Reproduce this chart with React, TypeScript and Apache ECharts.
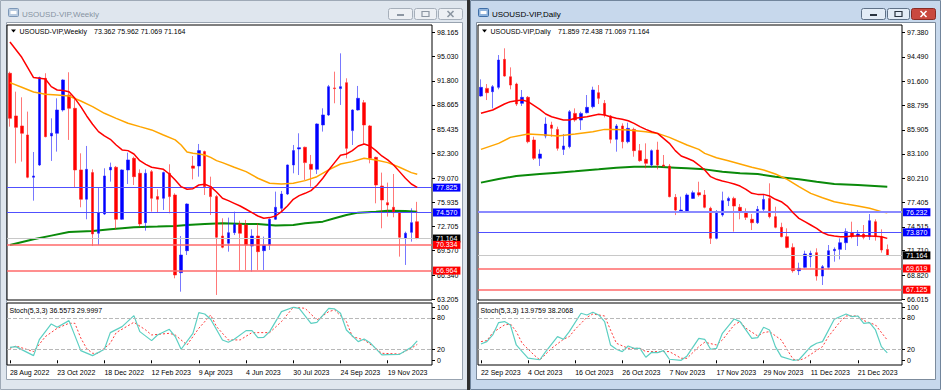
import { useEffect, useRef } from "react";
import * as echarts from "echarts";

const FONT = "'Liberation Sans', Arial, sans-serif";

// ---------- tick labels ----------
const weeklyTickLabels = ["28 Aug 2022", "23 Oct 2022", "18 Dec 2022", "12 Feb 2023", "9 Apr 2023", "4 Jun 2023", "30 Jul 2023", "24 Sep 2023", "19 Nov 2023"];
const dailyTickLabels = ["22 Sep 2023", "4 Oct 2023", "16 Oct 2023", "26 Oct 2023", "7 Nov 2023", "17 Nov 2023", "29 Nov 2023", "11 Dec 2023", "21 Dec 2023"];
const weeklyPriceTicks = [98.165, 95.03, 91.8, 88.665, 85.435, 82.3, 79.07, 75.935, 72.705, 69.57, 66.34, 63.205];
const dailyPriceTicks = [97.38, 94.49, 91.6, 88.795, 85.905, 83.1, 80.21, 77.405, 74.515, 71.71, 68.82, 66.015];
const stochTicks = [100, 80, 20, 0];

// ---------- weekly OHLC ----------
const weeklyOpen = [92.80, 87.21, 85.90, 84.72, 79.18, 80.79, 92.14, 84.59, 84.94, 87.99,
  89.96, 88.21, 80.14, 76.30, 79.79, 71.85, 74.37, 80.14, 80.49, 73.68,
  80.14, 81.66, 79.70, 73.24, 79.92, 76.65, 76.43, 79.70, 76.86, 66.69,
  69.57, 80.66, 80.66, 82.54, 77.95, 76.65, 71.49, 70.53, 71.93, 73.07,
  72.94, 70.18, 71.49, 69.57, 70.31, 73.68, 75.12, 76.99, 80.79, 82.89,
  83.11, 80.88, 80.22, 86.03, 87.34, 90.88, 90.79, 91.57, 85.29, 87.99,
  88.95, 85.90, 81.79, 78.04, 75.86, 75.25, 74.55, 71.19, 71.97, 73.362];
const weeklyHigh = [93.01, 90.39, 89.65, 87.78, 82.49, 92.36, 92.80, 86.90, 89.52, 92.01,
  92.93, 89.52, 82.32, 83.28, 80.22, 77.82, 80.36, 81.10, 80.66, 80.22,
  82.41, 81.88, 80.22, 80.22, 80.14, 77.61, 79.92, 80.88, 77.08, 71.49,
  75.77, 81.97, 83.54, 82.67, 79.26, 76.86, 73.81, 73.90, 74.68, 73.50,
  73.59, 72.37, 73.15, 71.41, 73.81, 77.30, 77.39, 80.85, 83.41, 84.94,
  83.19, 82.10, 86.25, 88.21, 91.27, 93.01, 95.41, 92.14, 88.08, 91.14,
  89.30, 86.03, 81.88, 79.79, 78.48, 79.61, 74.68, 72.06, 75.12, 75.962];
const weeklyLow = [85.81, 81.01, 81.23, 79.05, 76.12, 80.66, 84.41, 81.32, 82.54, 87.78,
  84.07, 77.87, 75.25, 73.68, 70.18, 70.31, 74.24, 78.61, 72.37, 73.59,
  78.30, 78.17, 72.72, 72.19, 74.68, 74.55, 74.90, 74.46, 65.95, 64.20,
  69.00, 78.91, 79.26, 76.86, 74.24, 63.77, 69.88, 69.44, 71.62, 66.95,
  67.04, 66.82, 67.04, 67.04, 69.66, 73.59, 74.55, 76.86, 79.70, 79.48,
  78.83, 77.95, 79.61, 85.16, 87.21, 88.87, 88.65, 81.66, 83.41, 87.91,
  83.41, 81.01, 75.77, 72.50, 74.03, 73.94, 68.79, 67.70, 70.75, 71.069];
const weeklyClose = [86.90, 85.72, 84.94, 79.18, 79.35, 92.23, 84.50, 84.94, 87.99, 91.92,
  88.21, 80.14, 76.30, 80.22, 71.76, 74.55, 79.35, 80.49, 73.68, 80.14,
  81.45, 79.26, 73.07, 79.70, 76.43, 76.30, 79.79, 76.65, 66.39, 69.00,
  75.68, 80.36, 82.67, 77.95, 76.65, 71.32, 70.01, 71.93, 73.02, 71.85,
  70.31, 71.49, 69.44, 70.31, 73.68, 75.25, 76.99, 80.79, 82.67, 83.06,
  81.10, 80.22, 86.16, 87.34, 91.05, 90.79, 91.05, 82.97, 87.99, 89.52,
  86.03, 81.66, 78.17, 76.21, 75.55, 74.55, 71.32, 71.85, 73.24, 71.164];

// ---------- weekly indicators ([bar, value]) ----------
const weeklyMaFast = [[0, 96.9], [2, 94.89], [4, 92.23], [5, 92.14], [6, 92.05], [7, 91.05], [8, 90.61], [9, 90.53], [10, 90.39], [11, 89.52], [12, 88.43], [13, 87.21], [14, 86.12], [15, 85.16], [16, 84.59], [17, 84.15], [18, 83.41], [19, 82.76], [20, 82.67], [21, 82.23], [22, 81.36], [23, 80.88], [24, 80.49], [25, 80.36], [26, 80.22], [27, 79.61], [28, 78.83], [29, 77.95], [30, 77.61], [31, 77.69], [32, 78.17], [33, 78.26], [34, 77.95], [35, 77.26], [36, 76.43], [37, 76.12], [38, 75.77], [39, 75.42], [40, 74.99], [41, 74.55], [42, 74.11], [43, 73.81], [44, 73.90], [45, 74.11], [46, 74.68], [47, 75.42], [48, 76.30], [49, 76.78], [50, 77.08], [51, 77.43], [52, 78.13], [53, 79.05], [54, 80.14], [55, 81.10], [56, 82.06], [57, 82.23], [58, 82.67], [59, 83.28], [60, 83.54], [61, 83.28], [62, 82.67], [63, 81.97], [64, 81.45], [65, 80.79], [66, 79.92], [67, 79.05], [68, 78.30], [69, 77.87]];
const weeklyMaMid = [[0, 91.57], [2, 90.96], [4, 90.35], [6, 90.05], [8, 89.96], [10, 89.83], [12, 89.17], [14, 88.43], [16, 87.56], [18, 86.90], [20, 86.25], [22, 85.81], [24, 85.38], [26, 84.72], [28, 84.07], [29, 83.41], [30, 82.49], [31, 82.32], [32, 82.23], [33, 82.10], [34, 81.79], [35, 81.36], [36, 81.10], [38, 80.49], [40, 79.92], [42, 79.05], [44, 78.39], [46, 78.30], [48, 78.39], [50, 78.74], [52, 79.26], [54, 80.14], [56, 80.92], [58, 81.23], [60, 81.66], [62, 81.45], [64, 81.10], [66, 80.49], [68, 79.79], [69, 79.57]];
const weeklyMaSlow = [[0, 70.31], [4, 71.06], [7, 71.54], [10, 72.02], [14, 72.15], [17, 72.37], [21, 72.63], [25, 72.72], [28, 72.80], [30, 72.94], [33, 73.07], [36, 73.15], [40, 73.07], [42, 73.07], [45, 72.85], [48, 72.94], [50, 73.15], [53, 73.37], [55, 73.81], [57, 74.24], [59, 74.55], [62, 74.68], [64, 74.81], [67, 74.77], [69, 74.68]];
const weeklyStochMain = [[0, 24.5], [1, 25.8], [4, 8.8], [5, 39.6], [7, 68.6], [8, 62.3], [10, 74.8], [12, 18.2], [14, 8.8], [16, 20.8], [17, 52.2], [19, 63.5], [21, 84.3], [22, 54.1], [24, 37.1], [25, 47.8], [27, 58.5], [28, 44.7], [29, 20.8], [31, 50.9], [32, 89.9], [33, 87.4], [34, 77.4], [36, 38.4], [37, 34.0], [38, 39.6], [40, 56.0], [41, 56.0], [42, 42.8], [43, 43.4], [44, 54.1], [46, 91.8], [48, 100], [49, 98], [51, 69.8], [52, 71.7], [54, 98], [55, 97], [56, 88.7], [57, 57.2], [59, 35.2], [60, 40.3], [61, 33.3], [63, 10.1], [64, 10.7], [66, 11.3], [68, 24.5], [69, 36.56]];
const weeklyStochSignal = [[0, 22.6], [1, 27.0], [4, 16.4], [6, 44.7], [8, 60.4], [10, 69.8], [11, 69.8], [12, 42], [13, 22], [14, 13.2], [15, 13.2], [17, 32.1], [18, 52.2], [21, 71.7], [23, 57.2], [24, 47.8], [27, 50.9], [28, 47.8], [30, 28.9], [32, 60.4], [34, 85.5], [35, 63.5], [37, 38.4], [39, 38.4], [41, 52.2], [42, 52.2], [44, 52.2], [46, 73.0], [48, 100], [50, 98.1], [52, 76.1], [54, 91.8], [55, 95.0], [57, 73.0], [58, 44.7], [60, 38.4], [62, 22.6], [63, 13.2], [66, 11.9], [68, 22.6], [69, 30.0]];
const weeklyBlueLevels = [77.825, 74.57];
const weeklyRedLevels = [70.334, 66.964];
const weeklyLast = 71.164;

// ---------- daily OHLC ----------
const dailyOpen = [89.89, 90.79, 90.40, 90.91, 94.20, 92.16, 91.30, 89.03, 89.74, 84.72,
  82.57, 85.19, 86.48, 85.97, 83.62, 83.94, 87.85, 87.07, 87.93, 88.64,
  90.28, 89.03, 87.54, 84.80, 86.37, 84.52, 85.97, 83.47, 82.45, 81.78,
  83.55, 81.78, 81.66, 77.98, 76.30, 76.30, 77.86, 78.53, 78.26, 76.69,
  73.16, 75.91, 77.59, 77.86, 76.81, 76.30, 75.40, 75.00, 76.57, 77.86,
  75.71, 74.46, 73.36, 72.10, 69.36, 69.75, 71.01, 71.48, 68.73, 69.75,
  71.71, 71.87, 72.65, 73.83, 73.44, 73.67, 73.36, 75.12, 73.36, 71.859];
const dailyHigh = [91.85, 91.30, 91.18, 94.71, 95.50, 93.26, 91.46, 90.60, 89.89, 85.11,
  83.62, 87.38, 86.87, 86.29, 85.43, 88.25, 88.44, 88.05, 90.01, 90.99,
  91.18, 89.42, 87.66, 86.60, 86.68, 86.76, 86.17, 84.25, 84.33, 83.62,
  84.52, 82.96, 81.90, 78.37, 78.06, 78.45, 78.77, 79.82, 78.84, 76.88,
  76.49, 78.65, 78.06, 78.06, 77.20, 76.69, 76.02, 76.96, 78.26, 79.63,
  76.88, 75.00, 74.34, 72.57, 70.30, 71.71, 71.71, 71.99, 70.03, 72.38,
  72.10, 73.16, 74.34, 75.12, 74.14, 74.73, 76.02, 75.40, 74.22, 72.438];
const dailyLow = [89.81, 89.42, 88.44, 90.68, 92.16, 90.68, 88.72, 88.72, 84.33, 82.37,
  81.67, 84.92, 85.11, 83.47, 82.96, 83.74, 86.87, 85.90, 87.85, 88.44,
  88.95, 87.38, 84.33, 83.35, 83.74, 84.33, 82.76, 82.17, 81.39, 81.51,
  81.27, 81.51, 77.98, 75.90, 76.18, 76.18, 77.80, 78.06, 76.69, 72.50,
  73.05, 75.71, 76.96, 73.95, 75.40, 75.32, 74.14, 74.85, 76.30, 75.51,
  74.34, 73.28, 71.99, 69.13, 68.85, 69.64, 69.75, 68.19, 67.68, 69.52,
  70.42, 70.69, 71.79, 73.16, 72.26, 73.05, 72.97, 72.89, 71.48, 71.069];
const dailyClose = [90.91, 90.28, 90.99, 94.12, 92.24, 91.18, 88.95, 89.74, 84.52, 82.57,
  83.07, 86.60, 86.09, 83.74, 84.02, 88.05, 87.07, 87.85, 88.56, 90.60,
  89.62, 87.66, 84.80, 86.37, 84.52, 86.09, 83.47, 82.29, 81.98, 83.47,
  81.78, 81.66, 78.06, 76.49, 76.49, 78.26, 78.53, 78.26, 76.81, 73.16,
  76.30, 77.59, 77.86, 76.96, 76.30, 75.63, 75.00, 76.57, 77.74, 75.71,
  74.46, 73.36, 72.10, 69.36, 69.64, 71.32, 71.40, 68.73, 69.83, 71.71,
  71.87, 72.65, 73.95, 73.36, 73.67, 73.28, 75.24, 73.36, 71.79, 71.164];

// ---------- daily indicators ----------
const dailyMaFast = [[0, 87.86], [2, 88.25], [4, 88.95], [5, 89.23], [6, 89.34], [7, 89.42], [8, 89.23], [10, 88.32], [11, 87.78], [12, 87.46], [14, 87.07], [15, 87.07], [16, 87.27], [18, 87.46], [20, 87.74], [21, 87.66], [22, 87.46], [23, 87.27], [24, 87.15], [25, 86.99], [26, 86.68], [27, 86.29], [28, 85.97], [29, 85.70], [30, 85.50], [31, 84.92], [32, 84.33], [33, 83.47], [34, 82.84], [35, 82.57], [36, 82.29], [37, 81.78], [38, 81.19], [39, 80.41], [40, 80.10], [41, 79.90], [42, 79.74], [43, 79.55], [44, 79.31], [45, 78.92], [46, 78.45], [47, 78.33], [48, 78.33], [49, 78.14], [50, 77.75], [51, 77.47], [52, 76.96], [53, 76.18], [54, 75.51], [55, 75.12], [56, 74.73], [57, 74.34], [58, 73.83], [59, 73.55], [60, 73.44], [61, 73.36], [62, 73.36], [63, 73.44], [64, 73.44], [65, 73.48], [66, 73.44], [67, 73.40], [68, 73.36], [69, 73.16]];
const dailyMaMid = [[0, 83.62], [3, 84.33], [5, 85.03], [8, 85.43], [11, 85.31], [13, 85.19], [16, 85.43], [19, 85.70], [21, 85.97], [23, 85.97], [25, 85.90], [28, 85.70], [30, 85.50], [32, 85.03], [35, 84.13], [37, 83.62], [38, 83.15], [40, 82.64], [42, 82.29], [44, 81.90], [46, 81.51], [48, 81.19], [50, 80.72], [52, 80.10], [54, 79.24], [56, 78.45], [58, 77.94], [60, 77.47], [62, 77.20], [64, 76.96], [66, 76.69], [68, 76.30], [69, 76.18]];
const dailyMaSlow = [[0, 79.71], [3, 80.14], [6, 80.49], [10, 80.72], [13, 80.88], [16, 81.04], [20, 81.27], [23, 81.47], [26, 81.59], [30, 81.59], [33, 81.47], [35, 81.39], [38, 81.27], [41, 81.00], [44, 80.80], [47, 80.72], [50, 80.41], [54, 80.10], [57, 79.82], [60, 79.55], [64, 79.43], [69, 79.24]];
const dailyStochMain = [[0, 30.8], [1, 35.2], [2, 47.8], [3, 71.1], [4, 73.0], [5, 66.7], [6, 28.9], [7, 16.4], [8, 4], [10, 1], [11, 16.4], [13, 44.7], [14, 39.6], [15, 54.1], [17, 88.7], [18, 85.5], [19, 90.6], [20, 85.5], [21, 73.0], [22, 28.9], [23, 20.8], [24, 16.4], [25, 27.0], [26, 22.6], [27, 22.6], [28, 5.7], [29, 15.1], [30, 14.5], [31, 18.2], [32, 2], [34, 0], [35, 8.2], [37, 41.5], [38, 39.6], [39, 20.8], [40, 22.6], [41, 50.9], [43, 78.0], [44, 73.0], [46, 41.5], [47, 42.8], [48, 62.3], [49, 57.2], [50, 25.8], [51, 6.9], [53, 0], [54, 1], [56, 25.8], [57, 32.1], [58, 35.2], [60, 77.4], [62, 87.4], [63, 82.4], [64, 83.6], [65, 69.8], [66, 71.1], [67, 57.2], [68, 25.8], [69, 13.98]];
const dailyStochSignal = [[0, 35.2], [1, 37.1], [2, 52.2], [4, 66.7], [5, 68.6], [6, 54.1], [7, 32.1], [9, 10.1], [10, 0.6], [12, 22.6], [14, 39.6], [15, 44.7], [16, 58.5], [18, 81.1], [19, 87.4], [21, 83.6], [22, 57.2], [23, 32.1], [25, 22.6], [27, 22.6], [28, 16.4], [30, 16.4], [32, 16.4], [34, 3.8], [35, 3.8], [37, 25.8], [38, 34.0], [40, 28.9], [41, 38.4], [43, 66.7], [44, 73.0], [45, 60.4], [47, 45.9], [48, 52.2], [49, 54.1], [51, 38.4], [53, 2], [54, 0], [55, 3.8], [58, 25.8], [59, 44.7], [61, 73.0], [62, 83.6], [64, 83.6], [65, 75], [67, 66.7], [69, 38.21]];
const dailyBlueLevels = [76.232, 73.87];
const dailyRedLevels = [69.619, 67.125];
const dailyLast = 71.164;

const weeklyHeader = ["USOUSD-VIP,Weekly", "73.362 75.962 71.069 71.164", "Stoch(5,3,3) 36.5573 29.9997"];
const dailyHeader = ["USOUSD-VIP,Daily", "71.859 72.438 71.069 71.164", "Stoch(5,3,3) 13.9759 38.2068"];

const categories = Array.from({ length: 72 }, (_, i) => String(i));

function candles(o: number[], h: number[], l: number[], c: number[]) {
  return o.map((v, i) => [v, c[i], l[i], h[i]]);
}

function levels(blue: number[], red: number[], last: number, blueWidths: number[]) {
  const item = (v: number, line: string, badge: string, width: number) => ({
    yAxis: v,
    lineStyle: { color: line, width, type: "solid" },
    label: {
      show: true, position: "end", distance: 1, formatter: v.toFixed(3),
      backgroundColor: badge, color: "#fff", fontSize: 7, fontFamily: FONT,
      lineHeight: 8, padding: [0, 3, 0, 3],
    },
  });
  return [
    ...blue.map((v, i) => item(v, i === 0 && blueWidths[0] > 1 ? "#8a8aff" : "#5050ff", "#0000ff", blueWidths[i])),
    item(last, "#c8c8c8", "#000000", 1),
    ...red.map((v) => item(v, "#ff6a6a", "#ff0000", 1.5)),
  ];
}

function mainX(g: number) {
  return { type: "category", gridIndex: g, data: categories, boundaryGap: true, axisLine: { show: false }, axisTick: { show: false }, axisLabel: { show: false }, splitLine: { show: false } };
}
function stochX(g: number, labels: string[]) {
  return {
    type: "category", gridIndex: g, data: categories, boundaryGap: true,
    axisLine: { show: false },
    axisTick: { show: true, interval: 7, alignWithLabel: true, length: 3, lineStyle: { color: "#000" } },
    axisLabel: {
      show: true, interval: 7, align: "left", margin: 4, fontSize: 7, color: "#000", fontFamily: FONT,
      formatter: (_v: string, idx: number) => (idx % 8 === 0 ? labels[idx / 8] ?? "" : ""),
    },
    splitLine: { show: false },
  };
}
function valueY(g: number, min: number, max: number, ticks: number[], digits: number) {
  return {
    type: "value", gridIndex: g, position: "right", min, max,
    axisLine: { show: false }, splitLine: { show: false },
    axisTick: { show: true, length: 3, customValues: ticks, lineStyle: { color: "#000" } },
    axisLabel: { show: true, customValues: ticks, margin: 5, fontSize: 7, color: "#000", fontFamily: FONT, formatter: (v: number) => v.toFixed(digits) },
  };
}

function paneSeries(xi: number, yi: number, sx: number, sy: number, data: number[][], maF: number[][], maM: number[][], maS: number[][], sm: number[][], ss: number[][], lv: any[]) {
  return [
    { type: "line", xAxisIndex: xi, yAxisIndex: yi, data: maS, symbol: "none", silent: true, z: 2, lineStyle: { color: "#0a8a0a", width: 2 } },
    {
      type: "candlestick", xAxisIndex: xi, yAxisIndex: yi, data, barWidth: 3, silent: true, z: 3,
      itemStyle: { color: "#0000ff", color0: "#ff0000", borderColor: "rgba(30,30,255,0.6)", borderColor0: "rgba(255,30,30,0.6)", borderWidth: 1 },
      markLine: { silent: true, symbol: ["none", "none"], animation: false, data: lv },
    },
    { type: "line", xAxisIndex: xi, yAxisIndex: yi, data: maM, symbol: "none", silent: true, z: 4, lineStyle: { color: "#ffa500", width: 1.5 } },
    { type: "line", xAxisIndex: xi, yAxisIndex: yi, data: maF, symbol: "none", silent: true, z: 5, lineStyle: { color: "#ff0000", width: 1.5 } },
    {
      type: "line", xAxisIndex: sx, yAxisIndex: sy, data: sm, symbol: "none", silent: true, z: 4, lineStyle: { color: "#5ccfc2", width: 1.2 },
      markLine: { silent: true, symbol: ["none", "none"], animation: false, label: { show: false }, lineStyle: { color: "#b8b8b8", type: "dashed", width: 1 }, data: [{ yAxis: 20 }, { yAxis: 80 }] },
    },
    { type: "line", xAxisIndex: sx, yAxisIndex: sy, data: ss, symbol: "none", silent: true, z: 3, lineStyle: { color: "#ff3a3a", width: 1, type: [2, 2] } },
  ];
}

function windowChrome(x0: number, w: number, active: boolean, title: string, header: string[], plotLeft: number) {
  const els: any[] = [];
  els.push({ type: "rect", z: -10, silent: true, shape: { x: x0 + 0.5, y: 0.5, width: w - 1, height: 389 }, style: { fill: active ? "#c7d8ec" : "#dfe6ee", stroke: active ? "#71859c" : "#9ea9b6" } });
  els.push({ type: "rect", z: -9, silent: true, shape: { x: x0 + 6.5, y: 22.5, width: w - 12, height: 357 }, style: { fill: "#ffffff", stroke: active ? "#7c8b9c" : "#98a3b0" } });
  // icon
  els.push({ type: "rect", z: -8, silent: true, shape: { x: x0 + 8.5, y: 8.5, width: 10, height: 8, r: 1 }, style: { fill: active ? "#8fb3dc" : "#b9cbe0", stroke: active ? "#3f6fa8" : "#7d98b8" } });
  els.push({ type: "rect", z: -7, silent: true, shape: { x: x0 + 10.5, y: 11, width: 6, height: 3 }, style: { fill: "#ffffff" } });
  els.push({ type: "text", z: -7, silent: true, x: x0 + 22, y: 14, style: { text: title, fontSize: 8, fontFamily: FONT, fill: active ? "#000000" : "#8794a3", verticalAlign: "middle", align: "left" } });
  // buttons
  const bx = x0 + w - 80;
  const btns = [[bx, 24], [bx + 26, 22], [bx + 50, 24]];
  btns.forEach(([bxx, bw], i) => {
    const isClose = i === 2;
    els.push({
      type: "rect", z: -7, silent: true, shape: { x: bxx + 0.5, y: 8.5, width: bw, height: 11, r: 2 },
      style: { fill: isClose && active ? "#c9493f" : active ? "#e3ecf6" : "#edf0f4", stroke: isClose && active ? "#8a2b24" : active ? "#5f7187" : "#a6afba" },
    });
    const cx = bxx + bw / 2 + 0.5;
    const glyph = active ? (isClose ? "#ffffff" : "#2a3440") : "#8c96a2";
    if (i === 0) els.push({ type: "rect", z: -6, silent: true, shape: { x: cx - 3.5, y: 14, width: 7, height: 2 }, style: { fill: glyph } });
    if (i === 1) els.push({ type: "rect", z: -6, silent: true, shape: { x: cx - 3.5, y: 11.5, width: 7, height: 5 }, style: { fill: "none", stroke: glyph, lineWidth: 1.2 } });
    if (i === 2) {
      els.push({ type: "line", z: -6, silent: true, shape: { x1: cx - 3, y1: 11, x2: cx + 3, y2: 17 }, style: { stroke: glyph, lineWidth: 1.6 } });
      els.push({ type: "line", z: -6, silent: true, shape: { x1: cx + 3, y1: 11, x2: cx - 3, y2: 17 }, style: { stroke: glyph, lineWidth: 1.6 } });
    }
  });
  // header inside chart
  els.push({ type: "polygon", z: 20, silent: true, shape: { points: [[plotLeft + 4, 29.5], [plotLeft + 9, 29.5], [plotLeft + 6.5, 32.5]] }, style: { fill: "#000" } });
  els.push({ type: "text", z: 20, silent: true, x: plotLeft + 12.5, y: 31, style: { text: header[0], fontSize: 7, fontFamily: FONT, fill: "#000", verticalAlign: "middle" } });
  els.push({ type: "text", z: 20, silent: true, x: plotLeft + (active ? 80 : 87), y: 31, style: { text: header[1], fontSize: 7, fontFamily: FONT, fill: "#000", verticalAlign: "middle" } });
  els.push({ type: "text", z: 20, silent: true, x: plotLeft + 2.5, y: 310, style: { text: header[2], fontSize: 7, fontFamily: FONT, fill: "#000", verticalAlign: "middle" } });
  return els;
}

export default function App() {
  const ref = useRef<HTMLDivElement>(null);
  useEffect(() => {
    if (!ref.current) return;
    const chart = echarts.init(ref.current, undefined, { renderer: "svg" });
    const gridStyle = { show: true, borderColor: "#000", borderWidth: 1, backgroundColor: "#ffffff" };
    const option: any = {
      animation: false,
      textStyle: { fontFamily: FONT },
      grid: [
        { left: 7, top: 25, width: 425, height: 275, ...gridStyle },
        { left: 7, top: 303, width: 425, height: 62, ...gridStyle },
        { left: 478, top: 25, width: 424, height: 275, ...gridStyle },
        { left: 478, top: 303, width: 424, height: 62, ...gridStyle },
      ],
      xAxis: [mainX(0), stochX(1, weeklyTickLabels), mainX(2), stochX(3, dailyTickLabels)],
      yAxis: [
        valueY(0, 63.11, 99.12, weeklyPriceTicks, 3),
        valueY(1, -8.9, 108.1, stochTicks, 0),
        valueY(2, 65.915, 98.24, dailyPriceTicks, 3),
        valueY(3, -8.9, 108.1, stochTicks, 0),
      ],
      series: [
        ...paneSeries(0, 0, 1, 1, candles(weeklyOpen, weeklyHigh, weeklyLow, weeklyClose), weeklyMaFast, weeklyMaMid, weeklyMaSlow, weeklyStochMain, weeklyStochSignal, levels(weeklyBlueLevels, weeklyRedLevels, weeklyLast, [1, 1])),
        ...paneSeries(2, 2, 3, 3, candles(dailyOpen, dailyHigh, dailyLow, dailyClose), dailyMaFast, dailyMaMid, dailyMaSlow, dailyStochMain, dailyStochSignal, levels(dailyBlueLevels, dailyRedLevels, dailyLast, [2, 1])),
      ],
      graphic: [
        ...windowChrome(0, 468, false, weeklyHeader[0], weeklyHeader, 7),
        ...windowChrome(470, 471, true, dailyHeader[0], dailyHeader, 478),
        { type: "rect", z: -5, silent: true, shape: { x: 467, y: 0, width: 3, height: 390 }, style: { fill: "#2f2f2f" } },
      ],
    };
    chart.setOption(option);
    return () => chart.dispose();
  }, []);
  return <div ref={ref} style={{ position: "absolute", left: 0, top: 0, width: 941, height: 390 }} />;
}
